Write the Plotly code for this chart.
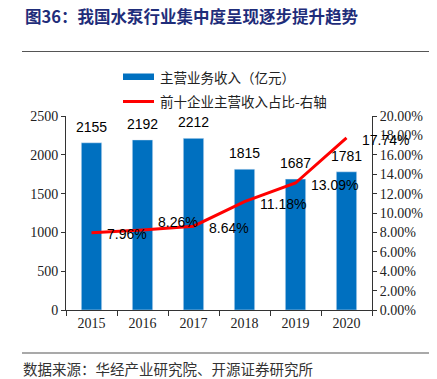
import plotly.graph_objects as go

years = ["2015", "2016", "2017", "2018", "2019", "2020"]
revenue = [2155, 2192, 2212, 1815, 1687, 1781]
share = [7.96, 8.26, 8.64, 11.18, 13.09, 17.74]
left_ticks = [0, 500, 1000, 1500, 2000, 2500]
right_ticks = [0, 2, 4, 6, 8, 10, 12, 14, 16, 18, 20]

# styling: vertical nudges of the percentage labels (pixels)
share_label_dy = [-1, 8, -2, -2, -2, -2]

OFF = 8  # page body margin
W, H = 437 - OFF, 379 - OFF
L, R, T, B = 58, 65, 108, 69
ph = H - T - B
pw = W - L - R

def py(pix):
    return (H - B - (pix - OFF)) / ph

def px(pix):
    return ((pix - OFF) - L) / pw

serif = "Liberation Serif"
sans = "Liberation Sans"
cjk = "Noto Sans CJK SC"
BLUE = "#0070C0"
RED = "#FF0000"

fig = go.Figure()
fig.add_trace(go.Bar(x=years, y=revenue, name="主营业务收入（亿元）",
                     marker_color=BLUE, width=0.4, yaxis="y"))
fig.add_trace(go.Scatter(x=years, y=share, name="前十企业主营收入占比-右轴",
                         mode="lines", line=dict(color=RED, width=3),
                         yaxis="y2"))

ann = []
for i, v in enumerate(revenue):
    ann.append(dict(x=i, y=v, xref="x", yref="y", text=str(v), showarrow=False,
                    yshift=16, font=dict(family=sans, size=14, color="black")))
for i, v in enumerate(share):
    ann.append(dict(x=i, y=v, xref="x", yref="y2", text=f"{v:.2f}%", showarrow=False,
                    xanchor="left", xshift=13, yshift=share_label_dy[i],
                    font=dict(family=sans, size=14, color="black")))
ann.append(dict(x=px(23), y=py(15.5), xref="paper", yref="paper", xanchor="left", yanchor="middle",
                text="<b>图36：我国水泵行业集中度呈现逐步提升趋势</b>", showarrow=False,
                font=dict(family=cjk, size=16.5, color="#1F2D7A")))
ann.append(dict(x=px(21), y=py(368), xref="paper", yref="paper", xanchor="left", yanchor="middle",
                text="数据来源：华经产业研究院、开源证券研究所", showarrow=False,
                font=dict(family=cjk, size=14.5, color="#333333")))
ann.append(dict(x=px(158), y=py(77), xref="paper", yref="paper", xanchor="left", yanchor="middle",
                text="主营业务收入（亿元）", showarrow=False,
                font=dict(family=cjk, size=13.5, color="#222222")))
ann.append(dict(x=px(158), y=py(101), xref="paper", yref="paper", xanchor="left", yanchor="middle",
                text="前十企业主营收入占比-右轴", showarrow=False,
                font=dict(family=cjk, size=13.5, color="#222222")))

shapes = [
    dict(type="line", xref="paper", yref="paper", x0=px(22), x1=px(437), y0=py(51.5), y1=py(51.5),
         line=dict(color="#555555", width=1.2)),
    dict(type="line", xref="paper", yref="paper", x0=px(22), x1=px(437), y0=py(353), y1=py(353),
         line=dict(color="#555555", width=1.2)),
    dict(type="rect", xref="paper", yref="paper", x0=px(123), x1=px(154), y0=py(73.5), y1=py(80),
         fillcolor=BLUE, line=dict(width=0)),
    dict(type="line", xref="paper", yref="paper", x0=px(123), x1=px(154), y0=py(101.5), y1=py(101.5),
         line=dict(color=RED, width=3)),
]

fig.update_layout(
    width=W, height=H,
    margin=dict(l=L, r=R, t=T, b=B, autoexpand=False),
    paper_bgcolor="white", plot_bgcolor="white",
    showlegend=False,
    xaxis=dict(type="category", categoryorder="array", categoryarray=years,
               range=[-0.5, len(years) - 0.5], autorange=False,
               showline=True, linecolor="#333333", linewidth=1,
               ticks="outside", tickson="boundaries", ticklen=5, tickcolor="#333333",
               tickfont=dict(family=serif, size=14, color="#222222"), showgrid=False),
    yaxis=dict(range=[0, 2500], tickvals=left_ticks, showline=True, linecolor="#333333",
               ticks="outside", ticklen=4, tickcolor="#333333", showgrid=False, zeroline=False,
               tickfont=dict(family=serif, size=14, color="#222222")),
    yaxis2=dict(range=[0, 20], tickvals=right_ticks, ticktext=[f"{t:.2f}%" for t in right_ticks],
                overlaying="y", side="right", showline=True, linecolor="#333333",
                ticks="outside", ticklen=4, tickcolor="#333333", showgrid=False, zeroline=False,
                tickfont=dict(family=serif, size=14, color="#222222")),
    annotations=ann, shapes=shapes,
)

fig.write_html("out.html")
